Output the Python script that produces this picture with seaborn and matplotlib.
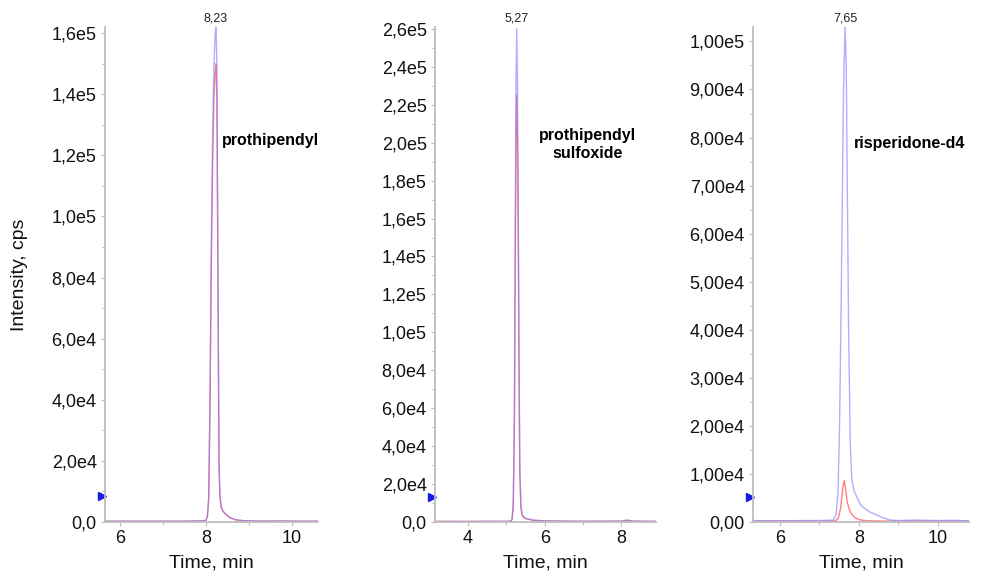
import numpy as np
import pandas as pd
import matplotlib
matplotlib.use("Agg")
import matplotlib.pyplot as plt
import matplotlib.transforms as mtransforms
from matplotlib.ticker import FuncFormatter, MultipleLocator
import seaborn as sns

# ---- chromatogram data (time in min, intensity in cps) ----
time_proth = [5.65, 6.0, 6.5, 7.0, 7.5, 7.9, 8.0, 8.03, 8.06, 8.09, 8.12, 8.15, 8.18, 8.21, 8.23,
              8.25, 8.28, 8.30, 8.32, 8.35, 8.40, 8.47, 8.55, 8.70, 8.90, 9.3, 9.8, 10.3, 10.6]
blue_proth = [300, 250, 350, 250, 300, 400, 600, 2000, 8000, 40000, 90000, 125000, 148000, 160000, 162000,
              150000, 70000, 20000, 9000, 5000, 3500, 2500, 1500, 700, 400, 300, 350, 250, 300]
red_proth = [250, 300, 200, 300, 250, 350, 550, 1800, 7500, 37000, 83000, 116000, 138000, 148000, 150000,
             139000, 65000, 18500, 8500, 4700, 3300, 2300, 1400, 650, 380, 280, 300, 260, 280]

time_sulf = [3.14, 3.5, 4.0, 4.5, 5.0, 5.12, 5.15, 5.18, 5.21, 5.23, 5.25, 5.27, 5.29, 5.31, 5.33,
             5.35, 5.38, 5.42, 5.5, 5.7, 6.0, 6.5, 7.0, 7.5, 8.0, 8.14, 8.3, 8.6, 8.9]
blue_sulf = [300, 350, 300, 400, 350, 500, 1500, 10000, 60000, 150000, 230000, 260000, 230000, 170000, 90000,
             30000, 8000, 3500, 2000, 1000, 600, 500, 400, 450, 500, 1000, 500, 400, 350]
red_sulf = [280, 320, 300, 350, 330, 450, 1300, 8700, 52000, 130000, 199000, 225000, 199000, 147000, 78000,
            26000, 7000, 3000, 1800, 900, 550, 450, 380, 420, 450, 900, 450, 380, 320]

time_risp = [5.31, 6.0, 6.5, 7.0, 7.35, 7.42, 7.47, 7.51, 7.55, 7.58, 7.61, 7.65, 7.68, 7.71, 7.74,
             7.78, 7.82, 7.88, 7.95, 8.05, 8.15, 8.3, 8.45, 8.6, 8.8, 9.0, 9.5, 10.0, 10.4, 10.8]
blue_risp = [300, 250, 300, 300, 400, 1500, 6000, 20000, 45000, 67000, 90000, 103000, 95000, 67000, 40000,
             17000, 9000, 6500, 5200, 3500, 2800, 2000, 1500, 900, 400, 300, 400, 300, 350, 250]
time_risp_red = [5.31, 6.0, 7.0, 7.40, 7.48, 7.54, 7.59, 7.63, 7.67, 7.71, 7.76, 7.82, 7.90, 8.0, 8.2,
                 8.6, 9.0, 9.5, 10.0, 10.8]
red_risp = [150, 200, 150, 200, 800, 3000, 7000, 8700, 6500, 4000, 2500, 1600, 900, 500, 250,
            200, 150, 200, 150, 200]

names = ["prothipendyl", "prothipendyl\nsulfoxide", "risperidone-d4"]
peak_rt = [8.23, 5.27, 7.65]
peak_labels = ["8,23", "5,27", "7,65"]
thresholds = [8500, 13000, 5200]
x_limits = [(5.65, 10.6), (3.14, 8.9), (5.31, 10.8)]
y_tops = [1.62e5, 2.61e5, 1.03e5]
y_major = [2e4, 2e4, 1e4]
y_decimals = [1, 1, 2]
x_major = [[6, 8, 10], [4, 6, 8], [6, 8, 10]]
name_pos = [(8.37, 1.25e5), (7.12, 1.99e5), (7.865, 7.88e4)]
name_ha = ["left", "center", "left"]

series = [
    (time_proth, blue_proth, time_proth, red_proth),
    (time_sulf, blue_sulf, time_sulf, red_sulf),
    (time_risp, blue_risp, time_risp_red, red_risp),
]

sns.set_style("white")
plt.rcParams["font.family"] = ["Liberation Sans", "DejaVu Sans"]

BLUE = "#7a7aff"
RED = "#ff6a6a"
AXIS = "#bdbdbd"

fig = plt.figure(figsize=(9.89, 5.74), dpi=100)
positions = [
    [105 / 989, 52 / 574, 213 / 989, 495 / 574],
    [435 / 989, 52 / 574, 221 / 989, 495 / 574],
    [753 / 989, 52 / 574, 216 / 989, 495 / 574],
]


def sci_formatter(decimals):
    def fmt(v, _pos):
        if abs(v) < 1e-9:
            return "0," + "0" * decimals
        e = int(np.floor(np.log10(abs(v)) + 1e-9))
        m = v / 10 ** e
        return (f"{m:.{decimals}f}e{e}").replace(".", ",")
    return fmt


for i, (tb, yb, tr, yr) in enumerate(series):
    ax = fig.add_axes(positions[i])
    df_b = pd.DataFrame({"t": tb, "y": yb})
    df_r = pd.DataFrame({"t": tr, "y": yr})
    sns.lineplot(data=df_r, x="t", y="y", ax=ax, color=RED, lw=1.0, alpha=0.85,
                 estimator=None, sort=False)
    sns.lineplot(data=df_b, x="t", y="y", ax=ax, color=BLUE, lw=1.0, alpha=0.6,
                 estimator=None, sort=False)

    ax.set_xlim(*x_limits[i])
    ax.set_ylim(0, y_tops[i])
    ax.set_xticks(x_major[i])
    ax.xaxis.set_minor_locator(MultipleLocator(1))
    ax.yaxis.set_major_locator(MultipleLocator(y_major[i]))
    ax.yaxis.set_minor_locator(MultipleLocator(y_major[i] / 2))
    ax.yaxis.set_major_formatter(FuncFormatter(sci_formatter(y_decimals[i])))

    for side in ["top", "right"]:
        ax.spines[side].set_visible(False)
    for side in ["left", "bottom"]:
        ax.spines[side].set_color(AXIS)
        ax.spines[side].set_linewidth(1.3)

    ax.tick_params(axis="both", which="major", direction="out", length=3, width=0.8,
                   color=AXIS, labelsize=13, labelcolor="#111111", pad=3)
    ax.tick_params(axis="both", which="minor", direction="out", length=2, width=0.8,
                   color=AXIS)
    ax.tick_params(axis="y", which="both", left=True)
    ax.tick_params(axis="x", which="both", bottom=True)

    ax.set_xlabel("Time, min", fontsize=14, labelpad=5, color="#111111")
    ax.set_ylabel("Intensity, cps" if i == 0 else "", fontsize=14, color="#111111",
                  labelpad=17)

    # retention time above the apex
    ax.annotate(peak_labels[i], xy=(peak_rt[i], y_tops[i]), xytext=(0, 2),
                textcoords="offset points", ha="center", va="bottom",
                fontsize=9, color="#222222", annotation_clip=False)

    # analyte name
    ax.text(name_pos[i][0], name_pos[i][1], names[i], ha=name_ha[i], va="center",
            fontsize=11.5, fontweight="bold", color="black", linespacing=1.3)

    # threshold marker on the intensity axis
    trans = mtransforms.blended_transform_factory(ax.transAxes, ax.transData)
    ax.plot([-0.012], [thresholds[i]], marker=">", color="#1a1ae6", markersize=6,
            transform=trans, clip_on=False, linestyle="none")

fig.savefig("out.png", dpi=100)
